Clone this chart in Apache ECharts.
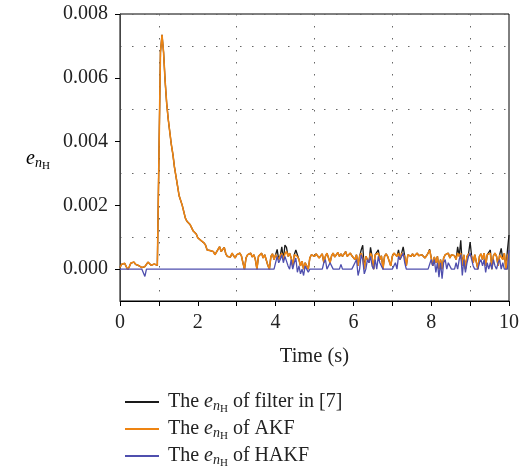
<!DOCTYPE html>
<html><head><meta charset="utf-8">
<script src="https://cdn.jsdelivr.net/npm/echarts@6/dist/echarts.min.js"></script>
<style>html,body{margin:0;padding:0;background:#fff}#c{width:522px;height:475px}</style>
</head><body><div id="c"></div><script>
// sample spacing of the readings (s)
const timeStep = 0.04;

// AKF error (orange)
const akf = [
0.00005,0.00015,0.0001,0.00018,0.00012,-0.00002,0.00008,0.00019,0.00014,0.00022,0.00015,0.0002,0.00011,0.00017,0.00005,0.0,0.00008,0.00004,0.00022,0.00018,0.00012,0.00009,0.00016,0.0001,0.00012,
0.00015,0.0068,0.00735,0.0068,0.0059,0.0052,0.0047,0.0043,0.0039,0.0036,0.0032,0.0029,0.0026,0.0023,0.00225,0.002,0.0018,0.0016,0.0015,0.00148,0.0014,0.0013,0.0012,0.00115,0.0011,
0.00098,0.00095,0.0009,0.00092,0.00082,0.00075,0.0006,0.00065,0.00058,0.00052,0.00055,0.00045,0.0005,0.00062,0.0007,0.00055,0.0006,0.00068,0.00048,0.0004,0.00045,0.00038,0.0005,0.00042,0.00035,
0.00045,0.0004,0.0005,0.00042,0.0002,0.0,0.00035,0.00045,0.0004,0.0005,0.00038,0.00045,0.0003,0.0,0.0004,0.00042,0.0005,0.00035,0.00045,0.0004,0.00012,0.0,0.0004,0.00048,0.0003,
0.00045,0.0005,0.0003,0.00042,0.0005,0.0003,0.00048,0.00055,0.0004,0.0005,0.00035,0.0001,0.00045,0.0005,0.0004,0.0003,0.0001,0.00025,0.0,0.0002,0.00015,0.0,0.00035,0.00045,0.0005,
0.0004,0.00048,0.00042,0.00035,0.0004,0.00048,0.0002,0.0004,0.0005,0.00045,0.0002,0.00042,0.0005,0.00038,0.00045,0.00052,0.0004,0.00048,0.0004,0.00045,0.00055,0.0004,0.00045,0.0005,0.00042,
0.00048,0.0003,0.00045,0.0001,0.0004,0.0005,0.00035,0.0,0.0004,0.00045,0.0002,0.0005,0.0004,0.0,0.00045,0.0004,0.0005,0.0003,0.00042,0.0,0.0004,0.00048,0.0004,0.00045,0.0001,
0.0004,0.0005,0.00045,0.0004,0.0005,0.0003,0.0005,0.00055,0.0004,0.0001,0.00045,0.0005,0.0004,0.00048,0.0004,0.00045,0.0005,0.00042,0.00038,0.00045,0.0004,0.00035,0.00042,0.0005,0.0006,
0.00035,0.0001,0.00038,0.0002,0.0004,0.0,0.0003,0.0,0.00035,0.00045,0.0004,0.0005,0.00035,0.00045,0.0004,0.00042,0.0003,0.0005,0.0004,0.0005,0.0001,0.00045,0.0,0.0004,0.00048,
0.0005,0.0004,0.0002,0.00045,0.0005,0.0,0.0004,0.00048,0.0003,0.0005,0.0001,0.00045,0.0004,0.0005,0.0,0.00042,0.0005,0.0004,0.0001,0.00045,0.0005,0.0003,0.0005,0.0,0.0004,0.0005
];

// error of filter in [7] (black)
const filter7 = [
0.00005,0.00015,0.0001,0.00018,0.00012,-0.00002,0.00008,0.00019,0.00014,0.00022,0.00015,0.0002,0.00011,0.00017,0.00005,0.0,0.00008,0.00004,0.00022,0.00018,0.00012,0.00009,0.00016,0.0001,0.00012,
0.00015,0.0068,0.00735,0.0068,0.0059,0.0052,0.0047,0.0043,0.0039,0.0036,0.0032,0.0029,0.0026,0.0023,0.00225,0.002,0.0018,0.0016,0.0015,0.00148,0.0014,0.0013,0.0012,0.00115,0.0011,
0.00098,0.00095,0.0009,0.00092,0.00082,0.00075,0.0006,0.00065,0.00058,0.00052,0.00055,0.00045,0.0005,0.00062,0.0007,0.00055,0.0006,0.00068,0.00048,0.0004,0.00045,0.00038,0.0005,0.00042,0.00035,
0.00045,0.0004,0.0005,0.00042,0.0002,0.0,0.00035,0.00045,0.0004,0.0005,0.00038,0.00045,0.0003,0.0,0.0004,0.00042,0.0005,0.00035,0.00045,0.0004,0.00012,0.0,0.0004,0.00048,0.0003,
0.00045,0.00062,0.0003,0.00042,0.0007,0.0003,0.00075,0.00068,0.0004,0.0005,0.00035,0.0001,0.00045,0.0006,0.00058,0.0003,0.0001,0.00025,0.0,0.0002,0.00015,0.0,0.00035,0.00045,0.0005,
0.0004,0.00048,0.00042,0.00035,0.0004,0.00048,0.0002,0.0004,0.0005,0.00045,0.0002,0.00042,0.0005,0.00038,0.00045,0.00052,0.0004,0.00048,0.0004,0.00045,0.00055,0.0004,0.00045,0.0005,0.00042,
0.00048,0.0003,0.00045,0.0001,0.0004,0.0006,0.00075,0.0,0.0004,0.00045,0.0002,0.00068,0.0004,0.0,0.00045,0.0004,0.0006,0.0003,0.00042,0.0,0.0004,0.00048,0.0004,0.00045,0.0001,
0.0004,0.0005,0.00045,0.0004,0.0006,0.0003,0.0005,0.0007,0.0004,0.0001,0.00045,0.0005,0.0004,0.00048,0.0004,0.00045,0.0005,0.00042,0.00038,0.00045,0.0004,0.00035,0.00042,0.0005,0.00062,
0.0006,0.0001,0.00038,0.0002,0.0004,0.0,0.0003,0.0,0.00035,0.00045,0.0004,0.0005,0.00035,0.00045,0.0004,0.00042,0.0003,0.0007,0.0004,0.0009,0.0001,0.00045,0.0,0.0004,0.00048,
0.00085,0.0004,0.0002,0.00045,0.0005,0.0,0.0004,0.00048,0.0003,0.0005,0.0001,0.00045,0.0004,0.0006,0.0,0.00042,0.0005,0.0004,0.0001,0.00045,0.00065,0.0003,0.0005,0.0,0.0006,0.00107
];

// HAKF error (blue)
const hakf = [
0,0,0,0,0,0,0,0,0,0,0,0,0,0,0,0,-0.00023,0,0,0,0,0,0,0,0,
0,0,0,0,0,0,0,0,0,0,0,0,0,0,0,0,0,0,0,0,0,0,0,0,0,
0,0,0,0,0,0,0,0,0,0,0,0,0,0,0,0,0,0,0,0,0,0,0,0,0,
0,0,0,0,0,-0.00005,0,0,0,0,0,0,0,0,0,0,0,0,0,0,0,-0.00005,0,0,0,
0,0.0004,0.0002,0.0003,0.00045,0.0002,0.0004,0.0004,0.0001,0,0.0003,0,0.0002,0.00035,-0.0001,0.0001,-0.00015,0,-0.0002,0.0001,0,-0.0001,0,0,0,
0,0,0,0,0,0,0.0002,0.0003,0,0,0.0002,0.00025,0,0,0,0,0,0.00015,0,0,0,0,0,0,0,
0,0.0002,0.0003,-0.0002,0,0.00045,0.0003,-0.00015,0,0.0003,0.0002,0.0004,0.0001,0,0.0003,0,0.0004,0.0002,0.0001,0,0,0,0,0,0,
0,0,0.0002,0,0.0004,0.0003,0.0004,0.0005,0.0002,0,0,0,0,0,0,0,0,0,0,0,0,0,0,0,0,
0.0003,0.0001,0.0003,-0.0001,0.0002,-0.00025,0.0002,-0.0003,0.0002,0.0003,0,0.0002,0.0001,0,0,0,0.0002,0,0.0003,0.00045,-0.0002,0.0003,-0.0001,0.0002,0.0004,
0.0005,0.0003,0.0001,0,0,0,0.0002,0.0003,0.0001,0.0003,-0.0001,0.0002,0,0.0002,0,0.0003,0.0001,0,0.0002,0.0003,0,0.0002,0,0,0,0.0006
];

const yTickValues = [0, 0.002, 0.004, 0.006, 0.008];
const seriesNames = ['filter7', 'akf', 'hakf'];
const legendLabels = {
  filter7: '{t|The }{e|e}{n|n}{h|H}{t| of filter in [7]}',
  akf: '{t|The }{e|e}{n|n}{h|H}{t| of AKF}',
  hakf: '{t|The }{e|e}{n|n}{h|H}{t| of HAKF}'
};

const FONT = 'Liberation Serif';
const toPairs = arr => arr.map((v, i) => [Math.round(i * timeStep * 100) / 100, v]);
const richSub = {
  t: {fontFamily: FONT, fontSize: 20, color: '#222'},
  e: {fontFamily: FONT, fontSize: 20, fontStyle: 'italic', color: '#222'},
  n: {fontFamily: FONT, fontSize: 14, fontStyle: 'italic', color: '#222', padding: [9, 0, 0, 0]},
  h: {fontFamily: FONT, fontSize: 11, color: '#222', padding: [14, 0, 0, 0]}
};

const chart = echarts.init(document.getElementById('c'), null, {renderer: 'canvas'});
chart.setOption({
  animation: false,
  backgroundColor: '#fff',
  grid: {left: 120, right: 9, top: 14, bottom: 174, show: true, borderColor: '#000', borderWidth: 1, backgroundColor: 'transparent'},
  xAxis: {
    type: 'value', min: 0, max: 10, interval: 2,
    name: 'Time (s)', nameLocation: 'middle', nameGap: 45,
    nameTextStyle: {fontFamily: FONT, fontSize: 20.5, color: '#222'},
    axisLine: {show: true, onZero: false, lineStyle: {color: '#000', width: 1}},
    axisTick: {show: true, length: 5, lineStyle: {color: '#000'}},
    minorTick: {show: true, splitNumber: 2, length: 5, lineStyle: {color: '#000'}},
    splitLine: {show: false},
    minorSplitLine: {show: true, lineStyle: {color: '#666', type: [1.5, 10.5], width: 1}},
    axisLabel: {fontFamily: FONT, fontSize: 20, color: '#222', margin: 12}
  },
  yAxis: [{
    type: 'value', min: -0.001, max: 0.008, interval: 0.001, position: 'left',
    axisLine: {show: true, onZero: false, lineStyle: {color: '#444', width: 1}},
    axisTick: {show: true, length: 5, customValues: yTickValues, lineStyle: {color: '#000'}},
    axisLabel: {customValues: yTickValues, fontFamily: FONT, fontSize: 20, color: '#222', margin: 12,
      formatter: v => v.toFixed(3)},
    splitLine: {show: false}
  }, {
    type: 'value', min: -0.001, max: 0.008, interval: 0.002, position: 'right',
    axisLine: {show: false}, axisTick: {show: false}, axisLabel: {show: false},
    splitLine: {show: true, lineStyle: {color: '#666', type: [1.5, 10.5], width: 1}}
  }],
  legend: {
    orient: 'vertical', left: 120, top: 387, height: 120, itemWidth: 34, itemHeight: 2, itemGap: 4.5,
    icon: 'rect',
    data: seriesNames,
    formatter: name => legendLabels[name],
    textStyle: {rich: richSub, padding: [0, 0, 0, 4]}
  },
  graphic: [{
    type: 'text', left: 26, top: 149,
    style: {text: '{e|e}{n|n}{h|H}', rich: richSub}
  }],
  series: [
    {name: 'filter7', type: 'line', data: toPairs(filter7), symbol: 'none', lineStyle: {color: '#1a1a1a', width: 1.3}, itemStyle: {color: '#1a1a1a'}, z: 2},
    {name: 'akf', type: 'line', data: toPairs(akf), symbol: 'none', lineStyle: {color: '#ee8412', width: 1.6}, itemStyle: {color: '#ee8412'}, z: 3},
    {name: 'hakf', type: 'line', data: toPairs(hakf), symbol: 'none', lineStyle: {color: '#4f4fae', width: 1.3}, itemStyle: {color: '#4f4fae'}, z: 4}
  ]
});
</script></body></html>
